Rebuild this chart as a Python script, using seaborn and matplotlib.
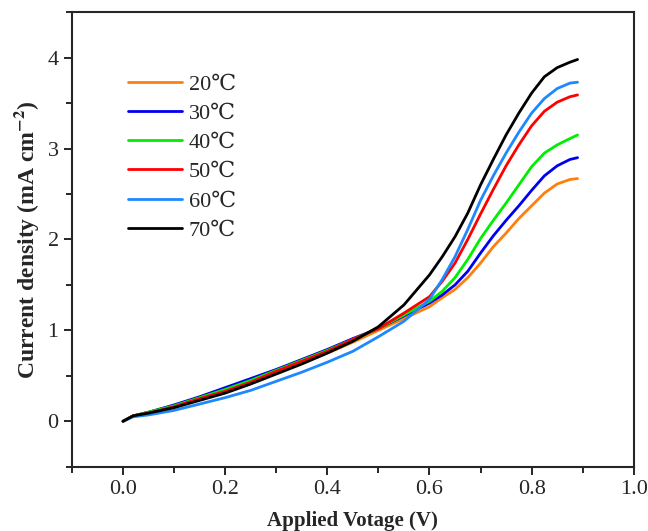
import matplotlib
matplotlib.use("Agg")
import matplotlib.pyplot as plt
import seaborn as sns
import pandas as pd
from matplotlib.ticker import MultipleLocator

# ---- data ----
voltage = [0.0, 0.02, 0.05, 0.1, 0.15, 0.2, 0.25, 0.3, 0.35, 0.4, 0.45, 0.5,
           0.55, 0.6, 0.625, 0.65, 0.675, 0.7, 0.725, 0.75, 0.775, 0.8,
           0.825, 0.85, 0.875, 0.89]
j_20 = [0, .06, .10, .17, .25, .34, .43, .53, .64, .75, .87, 1.00,
        1.13, 1.26, 1.36, 1.45, 1.58, 1.74, 1.92, 2.07, 2.23, 2.37,
        2.51, 2.61, 2.66, 2.67]
j_30 = [0, .06, .10, .18, .27, .37, .47, .57, .68, .79, .91, 1.02,
        1.16, 1.30, 1.39, 1.50, 1.65, 1.85, 2.04, 2.21, 2.37, 2.54,
        2.70, 2.81, 2.88, 2.90]
j_40 = [0, .06, .10, .17, .26, .35, .45, .56, .67, .78, .90, 1.02,
        1.17, 1.32, 1.43, 1.58, 1.78, 2.01, 2.21, 2.40, 2.60, 2.80,
        2.95, 3.04, 3.11, 3.15]
j_50 = [0, .06, .09, .16, .25, .33, .43, .55, .66, .77, .90, 1.02,
        1.19, 1.37, 1.54, 1.74, 2.00, 2.28, 2.55, 2.81, 3.04, 3.25,
        3.41, 3.51, 3.57, 3.59]
j_60 = [0, .05, .07, .12, .19, .26, .34, .44, .54, .65, .77, .93,
        1.10, 1.34, 1.56, 1.81, 2.11, 2.43, 2.70, 2.95, 3.18, 3.39,
        3.55, 3.66, 3.72, 3.73]
j_70 = [0, .06, .09, .15, .23, .31, .41, .52, .63, .75, .88, 1.04,
        1.28, 1.61, 1.81, 2.03, 2.29, 2.60, 2.88, 3.15, 3.39, 3.61,
        3.79, 3.89, 3.95, 3.98]
labels = ["20℃", "30℃", "40℃", "50℃", "60℃", "70℃"]
series = [j_20, j_30, j_40, j_50, j_60, j_70]
colors = ["#FF7F0E", "#0000F0", "#00EE00", "#FF0000", "#1E88FF", "#000000"]

x_ticks = [0.0, 0.2, 0.4, 0.6, 0.8, 1.0]
y_ticks = [0, 1, 2, 3, 4]

rows = []
for lab, vals in zip(labels, series):
    for v, j in zip(voltage, vals):
        rows.append({"V": v, "J": j, "T": lab})
df = pd.DataFrame(rows)

sns.set_style("ticks")
plt.rcParams["font.family"] = ["Liberation Serif", "DejaVu Serif"]
plt.rcParams["mathtext.fontset"] = "stix"

fig = plt.figure(figsize=(6.48, 5.31), dpi=100)
ax = fig.add_axes([0.111, 0.121, 0.867, 0.856])

sns.lineplot(data=df, x="V", y="J", hue="T", hue_order=labels,
             palette=dict(zip(labels, colors)), linewidth=2.0, ax=ax,
             sort=False, estimator=None)

ax.set_xlim(-0.1, 1.0)
ax.set_ylim(-0.5, 4.5)
ax.set_xticks(x_ticks)
ax.set_yticks(y_ticks)
ax.set_xticklabels([f"{t:.1f}" for t in x_ticks])
ax.set_yticklabels([str(t) for t in y_ticks])
ax.xaxis.set_minor_locator(MultipleLocator(0.1))
ax.yaxis.set_minor_locator(MultipleLocator(0.5))
ax.tick_params(which="major", direction="out", length=6, width=1.4,
               labelsize=16, top=False, right=False)
ax.tick_params(which="minor", direction="out", length=4, width=1.4,
               top=False, right=False)
for sp in ax.spines.values():
    sp.set_visible(True)
    sp.set_linewidth(1.5)

ax.set_xlabel("Applied Votage (V)", fontsize=15, fontweight="bold", labelpad=9)
ax.set_ylabel(r"Current density (mA cm$^{\mathbf{-2}}$)", fontsize=17,
              fontweight="bold", labelpad=5)

handles, _ = ax.get_legend_handles_labels()
leg = ax.legend(handles=handles, labels=labels, loc="upper left",
                bbox_to_anchor=(0.099, 0.864), frameon=False, borderpad=0,
                borderaxespad=0, handlelength=2.45, handletextpad=0.3,
                labelspacing=0.39, fontsize=16)
for line in leg.get_lines():
    line.set_linewidth(2.0)

fig.savefig("out.png", dpi=100)
